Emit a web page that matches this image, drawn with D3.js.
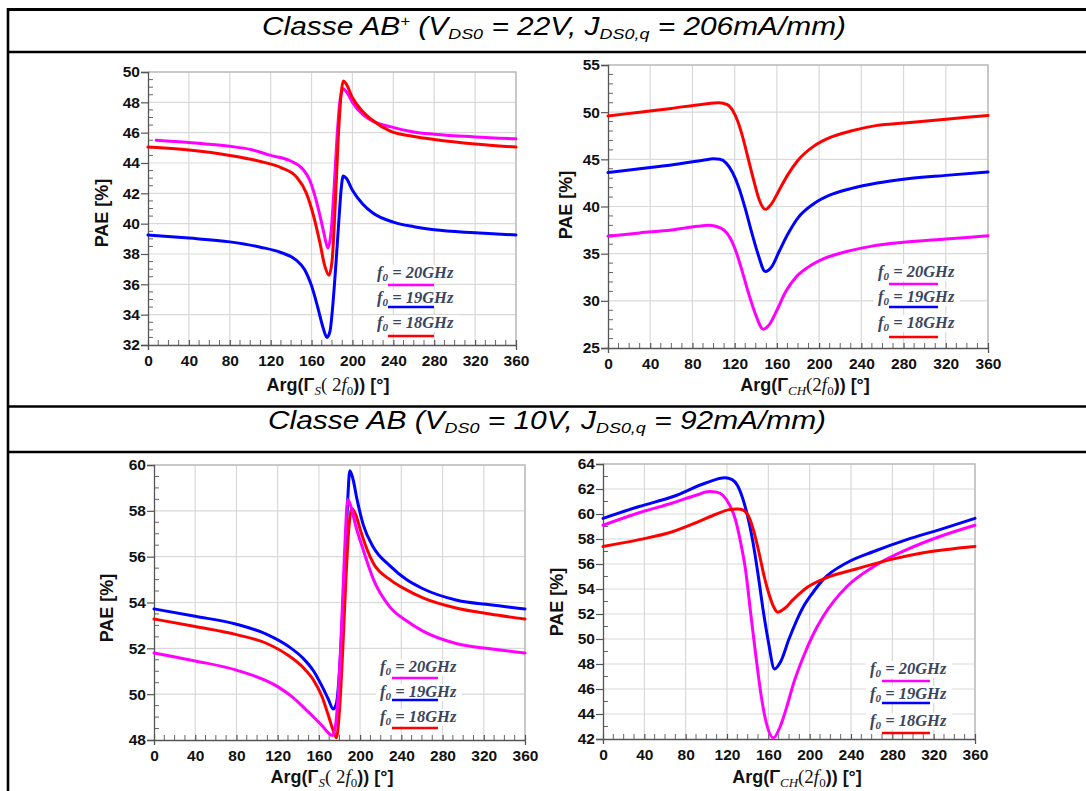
<!DOCTYPE html>
<html>
<head>
<meta charset="utf-8">
<script src="https://cdn.jsdelivr.net/npm/d3@7"></script>
<style>
  html, body { margin: 0; padding: 0; background: #fff; }
  svg { display: block; }
</style>
</head>
<body>
<svg id="chart" width="1086" height="791"></svg>
<script>
// ---------------- DATA ----------------
const xTicks = [0, 40, 80, 120, 160, 200, 240, 280, 320, 360];
const yTicksTL = [32, 34, 36, 38, 40, 42, 44, 46, 48, 50];
const yTicksTR = [25, 30, 35, 40, 45, 50, 55];
const yTicksBL = [48, 50, 52, 54, 56, 58, 60];
const yTicksBR = [42, 44, 46, 48, 50, 52, 54, 56, 58, 60, 62, 64];
const legendLabels = ["20GHz", "19GHz", "18GHz"];
const titleTop = "Classe AB";
const titleBottom = "Classe AB";

// Top-left: Arg(Γ_S(2f0)), Classe AB+
const tl20 = [[8,45.5],[40,45.35],[80,45.1],[100,44.9],[120,44.5],[139,44.15],[152,43.55],[158,42.9],[163,41.9],[168,40.6],[172,39.4],[176,38.4],[179,39.4],[182,42.3],[185,45.8],[188,48.2],[191,48.9],[195,48.6],[200,48.0],[210,47.2],[220,46.75],[237,46.4],[260,46.05],[280,45.9],[320,45.72],[360,45.6]];
const tl19 = [[0,39.25],[40,39.05],[80,38.8],[110,38.45],[130,38.1],[145,37.6],[153,37.0],[160,35.9],[166,34.5],[171,33.2],[175,32.5],[178,32.9],[181,34.8],[184,37.5],[187,40.5],[189,42.3],[191,43.15],[194,43.0],[200,42.2],[210,41.3],[220,40.7],[240,40.1],[260,39.8],[280,39.6],[320,39.4],[360,39.25]];
const tl18 = [[0,45.05],[40,44.85],[80,44.5],[110,44.1],[130,43.7],[145,43.1],[155,42.0],[162,40.5],[168,38.8],[173,37.2],[177,36.6],[180,37.5],[183,41.0],[186,45.5],[189,48.6],[191,49.4],[194,49.2],[200,48.3],[210,47.4],[220,46.8],[237,46.1],[260,45.75],[280,45.55],[320,45.25],[360,45.05]];

// Top-right: Arg(Γ_CH(2f0)), Classe AB+
const tr20 = [[0,36.85],[30,37.2],[60,37.5],[85,37.9],[95,38.0],[102,37.9],[110,37.5],[116,36.6],[122,35.0],[128,32.8],[134,30.5],[140,28.5],[147,27.0],[153,27.5],[160,29.0],[168,30.9],[178,32.5],[190,33.6],[205,34.5],[225,35.2],[250,35.8],[280,36.2],[320,36.55],[360,36.9]];
const tr19 = [[0,43.6],[30,44.0],[60,44.4],[90,44.9],[100,45.05],[106,45.0],[112,44.6],[118,43.6],[124,42.0],[130,39.8],[136,37.3],[142,35.0],[149,33.1],[155,33.6],[162,35.2],[170,37.0],[180,38.8],[195,40.3],[210,41.2],[230,41.9],[255,42.5],[280,42.9],[320,43.3],[360,43.65]];
const tr18 = [[0,49.6],[30,50.0],[60,50.4],[90,50.85],[105,51.0],[113,50.8],[118,50.2],[123,49.0],[128,47.2],[133,45.0],[138,42.8],[143,40.8],[149,39.7],[155,40.3],[162,41.7],[170,43.3],[180,44.9],[195,46.4],[210,47.3],[230,48.0],[255,48.6],[280,48.85],[320,49.25],[360,49.65]];

// Bottom-left: Arg(Γ_S(2f0)), Classe AB
const bl20 = [[0,51.8],[40,51.45],[80,51.05],[120,50.33],[135,49.85],[148,49.3],[156,48.95],[164,48.58],[169,48.32],[173,48.2],[176,48.6],[179,50.2],[182,53.0],[185,56.3],[188,58.5],[191,58.2],[196,57.3],[203,56.3],[213,55.0],[229,53.8],[245,53.2],[261,52.75],[294,52.2],[326,51.98],[360,51.8]];
const bl19 = [[0,53.72],[40,53.4],[80,53.05],[110,52.6],[130,52.1],[145,51.55],[155,51.0],[163,50.35],[169,49.8],[174,49.35],[177,49.6],[180,51.0],[183,53.5],[186,56.5],[188,58.5],[190,59.75],[193,59.4],[197,58.5],[203,57.4],[213,56.4],[229,55.6],[245,55.0],[261,54.6],[294,54.1],[326,53.9],[360,53.72]];
const bl18 = [[0,53.28],[40,52.95],[80,52.6],[110,52.2],[130,51.7],[145,51.15],[155,50.6],[163,49.9],[169,49.1],[174,48.4],[177,48.1],[180,49.3],[183,51.8],[186,54.8],[189,57.2],[192,58.1],[196,57.8],[200,57.2],[206,56.4],[213,55.7],[229,55.0],[245,54.55],[261,54.2],[294,53.75],[326,53.5],[360,53.28]];

// Bottom-right: Arg(Γ_CH(2f0)), Classe AB
const br20 = [[0,59.1],[35,60.1],[68,60.9],[90,61.5],[103,61.8],[110,61.75],[116,61.5],[122,60.8],[128,59.6],[133,57.8],[138,55.5],[143,52.0],[148,48.6],[153,45.5],[158,43.3],[165,42.1],[171,42.9],[177,44.35],[185,46.6],[194,48.6],[203,50.3],[213,51.8],[236,54.2],[262,55.8],[294,57.15],[326,58.2],[360,59.1]];
const br19 = [[0,59.65],[35,60.6],[68,61.4],[100,62.5],[118,62.9],[125,62.75],[130,62.3],[135,61.3],[140,59.8],[145,57.8],[150,55.2],[155,52.3],[160,49.8],[166,47.6],[172,48.2],[180,50.0],[194,52.6],[203,53.7],[213,54.75],[236,56.1],[262,57.0],[294,57.95],[326,58.75],[360,59.65]];
const br18 = [[0,57.4],[35,57.95],[68,58.6],[90,59.3],[110,60.0],[122,60.35],[130,60.4],[136,60.3],[141,59.8],[146,58.6],[151,56.9],[156,55.0],[161,53.5],[165,52.6],[169,52.15],[175,52.4],[184,53.15],[197,54.1],[216,54.9],[245,55.6],[278,56.35],[310,56.9],[360,57.4]];

// ---------------- STYLE / LAYOUT ----------------
const COLORS = { f20: "#ff00ff", f19: "#0000ff", f18: "#ff0000" };
const svg = d3.select("#chart");

// table frame
const frame = svg.append("g").attr("stroke", "#000").attr("fill", "none");
frame.append("line").attr("x1", 8).attr("x2", 8).attr("y1", 8).attr("y2", 791).attr("stroke-width", 2.6);
frame.append("line").attr("x1", 7).attr("x2", 1086).attr("y1", 9.5).attr("y2", 9.5).attr("stroke-width", 2.8);
frame.append("line").attr("x1", 7).attr("x2", 1086).attr("y1", 52).attr("y2", 52).attr("stroke-width", 2.4);
frame.append("line").attr("x1", 7).attr("x2", 1086).attr("y1", 406.5).attr("y2", 406.5).attr("stroke-width", 2.4);
frame.append("line").attr("x1", 7).attr("x2", 1086).attr("y1", 452).attr("y2", 452).attr("stroke-width", 2.4);

function title(yBase, cx, main, sup, v, j, width) {
  const t = svg.append("text")
    .attr("x", cx).attr("y", yBase)
    .attr("text-anchor", "middle")
    .attr("font-family", "Liberation Sans, Arial, sans-serif")
    .attr("font-style", "italic")
    .attr("font-size", 25)
    .attr("fill", "#000")
    .attr("textLength", width).attr("lengthAdjust", "spacingAndGlyphs");
  t.append("tspan").text(main);
  if (sup) t.append("tspan").attr("font-size", 14).attr("dy", -9).text(sup);
  t.append("tspan").attr("dy", sup ? 9 : 0).text(" (V");
  t.append("tspan").attr("font-size", 15).attr("dy", 4).text("DS0");
  t.append("tspan").attr("dy", -4).text(" = " + v + ", J");
  t.append("tspan").attr("font-size", 15).attr("dy", 4).text("DS0,q");
  t.append("tspan").attr("dy", -4).text(" = " + j + ")");
}
title(35, 554, titleTop, "+", "22V", "206mA/mm", 584);
title(429, 547, titleBottom, null, "10V", "92mA/mm", 558);

const SANS = "Liberation Sans, Arial, sans-serif";
const SERIF = "Liberation Serif, DejaVu Serif, serif";

function panel(cfg) {
  const x = d3.scaleLinear().domain([0, 360]).range([cfg.l, cfg.r]);
  const y = d3.scaleLinear().domain([cfg.yTicks[0], cfg.yTicks[cfg.yTicks.length - 1]]).range([cfg.b, cfg.t]);
  const g = svg.append("g");

  // grid
  g.append("g").selectAll("line").data(xTicks.slice(1)).join("line")
    .attr("x1", d => x(d)).attr("x2", d => x(d)).attr("y1", cfg.t).attr("y2", cfg.b)
    .attr("stroke", "#d9d9d9").attr("stroke-width", 1.2);
  g.append("g").selectAll("line").data(cfg.yTicks.slice(1)).join("line")
    .attr("x1", cfg.l).attr("x2", cfg.r).attr("y1", d => y(d)).attr("y2", d => y(d))
    .attr("stroke", "#d9d9d9").attr("stroke-width", 1.2);
  // outer frame (top/right)
  g.append("path")
    .attr("d", `M${cfg.l},${cfg.t}H${cfg.r}V${cfg.b}`)
    .attr("fill", "none").attr("stroke", "#bdbdbd").attr("stroke-width", 1.5);

  // minor ticks
  const xMinor = d3.range(0, 361, 10).filter(v => v % 40 !== 0);
  const yStep = cfg.yTicks[1] - cfg.yTicks[0];
  const yMinor = d3.range(cfg.yTicks[0], cfg.yTicks[cfg.yTicks.length - 1] + 1e-9, cfg.minor)
    .filter(v => Math.abs(((v - cfg.yTicks[0]) / yStep) - Math.round((v - cfg.yTicks[0]) / yStep)) > 1e-6);
  g.append("g").selectAll("line").data(xMinor).join("line")
    .attr("x1", d => x(d)).attr("x2", d => x(d)).attr("y1", cfg.b).attr("y2", cfg.b - 5)
    .attr("stroke", "#666").attr("stroke-width", 1);
  g.append("g").selectAll("line").data(yMinor).join("line")
    .attr("x1", cfg.l).attr("x2", cfg.l + 5).attr("y1", d => y(d)).attr("y2", d => y(d))
    .attr("stroke", "#666").attr("stroke-width", 1);

  // axes
  const ax = g.append("g").attr("transform", `translate(0,${cfg.b})`)
    .call(d3.axisBottom(x).tickValues(xTicks).tickSize(5).tickPadding(3));
  const ay = g.append("g").attr("transform", `translate(${cfg.l},0)`)
    .call(d3.axisLeft(y).tickValues(cfg.yTicks).tickSize(7).tickPadding(1));
  [ax, ay].forEach(a => {
    a.select(".domain").attr("stroke", "#555").attr("stroke-width", 1.3);
    a.selectAll(".tick line").attr("stroke", "#555").attr("stroke-width", 1.2);
    a.selectAll(".tick text")
      .attr("font-family", SANS).attr("font-weight", "bold")
      .attr("font-size", 15.5).attr("fill", "#111");
  });
  ax.selectAll(".tick line").attr("y2", -5);
  ax.selectAll(".tick text").attr("y", 10);
  ay.selectAll(".tick line").attr("x2", -7);

  // series
  const line = d3.line().x(d => x(d[0])).y(d => y(d[1])).curve(d3.curveMonotoneX);
  cfg.series.forEach(s => {
    g.append("path").datum(s.data)
      .attr("d", line)
      .attr("fill", "none").attr("stroke", s.color)
      .attr("stroke-width", 3).attr("stroke-linejoin", "round").attr("stroke-linecap", "round");
  });

  // axis titles
  g.append("text")
    .attr("transform", `translate(${cfg.ylx},${cfg.yly}) rotate(-90)`)
    .attr("text-anchor", "middle").attr("dominant-baseline", "central")
    .attr("font-family", SANS).attr("font-weight", "bold").attr("font-size", 18).attr("fill", "#111")
    .text("PAE [%]");
  const xt = g.append("text")
    .attr("x", cfg.xlx).attr("y", cfg.xly)
    .attr("text-anchor", "middle")
    .attr("font-family", SANS).attr("font-weight", "bold").attr("font-size", 18).attr("fill", "#111");
  xt.append("tspan").text("Arg(Γ");
  xt.append("tspan").attr("font-family", SERIF).attr("font-style", "italic").attr("font-weight", "normal")
    .attr("font-size", 13).attr("dy", 4).text(cfg.sub);
  xt.append("tspan").attr("font-family", SERIF).attr("font-weight", "normal").attr("font-size", 19).attr("dy", -4).text(cfg.gap ? "( 2" : "(2");
  xt.append("tspan").attr("font-family", SERIF).attr("font-style", "italic").attr("font-weight", "normal").attr("font-size", 19).text("f");
  xt.append("tspan").attr("font-family", SERIF).attr("font-weight", "normal").attr("font-size", 13).attr("dy", 4).text("0");
  xt.append("tspan").attr("dy", -4).text(")) [°]");

  // legend
  const leg = g.append("g");
  cfg.legend.rows.forEach((row, i) => {
    const ty = cfg.legend.ty[i];
    const ly = cfg.legend.ly[i];
    leg.append("rect").attr("x", cfg.legend.x - 4).attr("y", ty - 13).attr("width", 86).attr("height", 17)
      .attr("fill", "#fff");
    const t = leg.append("text").attr("x", cfg.legend.x).attr("y", ty)
      .attr("font-family", SERIF).attr("font-style", "italic").attr("font-weight", "bold")
      .attr("font-size", 16.5).attr("fill", "#3a4560");
    t.append("tspan").text("f");
    t.append("tspan").attr("font-size", 11).attr("dy", 3).text("0");
    t.append("tspan").attr("dy", -3).text(" = " + row.label);
    leg.append("line").attr("x1", cfg.legend.lx1).attr("x2", cfg.legend.lx2)
      .attr("y1", ly).attr("y2", ly).attr("stroke", row.color).attr("stroke-width", 2.5);
  });
}

const legRows = [
  { label: legendLabels[0], color: COLORS.f20 },
  { label: legendLabels[1], color: COLORS.f19 },
  { label: legendLabels[2], color: COLORS.f18 }
];

panel({
  l: 148, r: 516, t: 72, b: 345, yTicks: yTicksTL, minor: 0.5,
  series: [{ data: tl20, color: COLORS.f20 }, { data: tl19, color: COLORS.f19 }, { data: tl18, color: COLORS.f18 }],
  ylx: 102, yly: 213, xlx: 328, xly: 391, sub: "S", gap: true,
  legend: { rows: legRows, x: 377, ty: [278, 303, 328], ly: [285, 307, 336], lx1: 388, lx2: 434 }
});
panel({
  l: 608, r: 988, t: 65, b: 348, yTicks: yTicksTR, minor: 1,
  series: [{ data: tr20, color: COLORS.f20 }, { data: tr19, color: COLORS.f19 }, { data: tr18, color: COLORS.f18 }],
  ylx: 566, yly: 205, xlx: 805, xly: 391, sub: "CH", gap: false,
  legend: { rows: legRows, x: 878, ty: [277, 302, 328], ly: [284, 307, 337], lx1: 889, lx2: 938 }
});
panel({
  l: 154, r: 525, t: 465, b: 740, yTicks: yTicksBL, minor: 0.5,
  series: [{ data: bl19, color: COLORS.f19 }, { data: bl18, color: COLORS.f18 }, { data: bl20, color: COLORS.f20 }],
  ylx: 107, yly: 608, xlx: 332, xly: 783, sub: "S", gap: true,
  legend: { rows: legRows, x: 380, ty: [672, 697, 722], ly: [678, 700, 728], lx1: 392, lx2: 438 }
});
panel({
  l: 603, r: 975, t: 464, b: 739, yTicks: yTicksBR, minor: 1,
  series: [{ data: br20, color: COLORS.f20 }, { data: br19, color: COLORS.f19 }, { data: br18, color: COLORS.f18 }],
  ylx: 557, yly: 602, xlx: 797, xly: 783, sub: "CH", gap: false,
  legend: { rows: legRows, x: 870, ty: [674, 699, 726], ly: [681, 703, 733], lx1: 882, lx2: 930 }
});
</script>
</body>
</html>
